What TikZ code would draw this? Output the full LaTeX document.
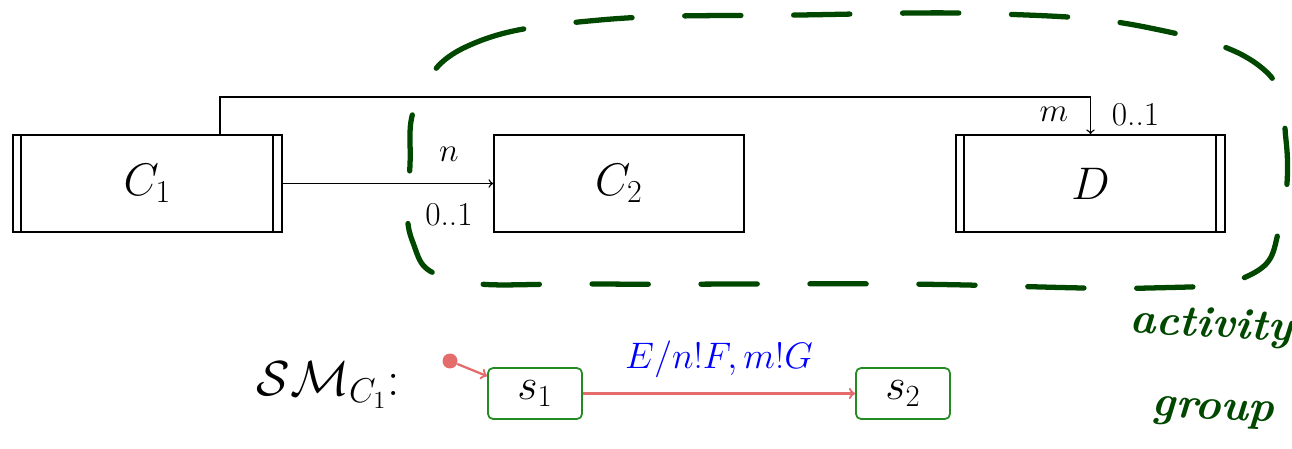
\RequirePackage{fix-cm}
\documentclass[tikz,border=0pt]{standalone}
\usepackage{amsmath}
\usepackage{tikz}
\usetikzlibrary{positioning}
\definecolor{inkGreen}{RGB}{0,72,0}
\definecolor{stGreen}{RGB}{34,139,34}
\definecolor{trSalmon}{RGB}{228,108,108}

\begin{document}
\begin{tikzpicture}[x=0.02cm, y=-0.02cm,
  cls/.style={draw, line width=1.1pt, minimum height=1.94cm, font=\fontsize{26}{30}\selectfont},
  lbl/.style={inner sep=0pt, font=\fontsize{19}{22}\selectfont},
  st/.style={draw=stGreen, line width=1pt, rounded corners=0.1cm, minimum width=1.88cm, minimum height=1.02cm, font=\fontsize{25}{28}\selectfont},
  trans/.style={->, trSalmon, line width=1.3pt},
  ink/.style={inkGreen, font=\fontsize{25}{30}\selectfont\bfseries\itshape, anchor=west, rotate=-3}]
  \useasboundingbox (0,0) rectangle (1292,449);

  % Classes
  \node[cls, minimum width=5.38cm] (c1) at (147.5,183.5) {$C_1$};
  \node[cls, minimum width=5.0cm]  (c2) at (619,183.5)   {$C_2$};
  \node[cls, minimum width=5.38cm] (d)  at (1090.5,183.5) {$D$};

  % active class bars
  \foreach \c in {c1,d} {
    \draw[line width=1.1pt, shorten <=0.55pt, shorten >=0.55pt] ([xshift=0.18cm]\c.north west) -- ([xshift=0.18cm]\c.south west);
    \draw[line width=1.1pt, shorten <=0.55pt, shorten >=0.55pt] ([xshift=-0.2cm]\c.north east) -- ([xshift=-0.2cm]\c.south east);
  }

  % Associations
  \draw[->, line width=0.8pt] (c1.east) -- (c2.west)
    node[lbl, pos=0.79, above=0.42cm] {$n$}
    node[lbl, pos=0.79, below=0.38cm] {0..1};
  \draw[->, line width=0.8pt] ([xshift=1.45cm]c1.north) -- ++(0,-37) -| (d.north);
  \node[lbl, anchor=south east] (m)    at ([xshift=-0.44cm, yshift=0.24cm]d.north) {$m$};
  \node[lbl, anchor=south west] (mult) at ([xshift=0.42cm, yshift=0.16cm]d.north) {0..1};

  % Hand drawn group
  \draw[inkGreen, line width=3pt, line cap=round, dash pattern=on 32pt off 30pt]
    plot[smooth cycle, tension=0.7] coordinates {(418,100) (470,45) (600,20) (800,15) (1000,14) (1150,28) (1262,68) (1286,140) (1280,225) (1250,275) (1150,288) (900,284) (600,284) (455,280) (412,240) (410,165)};
  \node[ink] (act) at (1124,322) {activity};
  \node[ink] (grp) at (1146,410) {group};

  % State machine
  \node[font=\fontsize{28}{32}\selectfont] (sm) at (328,385) {$\mathcal{SM}_{C_1}$:};
  \node[st] (s1) at (535,393.5) {$s_1$};
  \node[st] (s2) at (903,393.5) {$s_2$};
  \node[circle, fill=trSalmon, inner sep=0pt, minimum size=0.3cm] (init) at (450,361) {};
  \draw[trans] (init) -- ([yshift=-0.18cm]s1.north west);
  \draw[trans] (s1) -- (s2)
    node[midway, above=0.3cm, inner sep=0pt, blue, font=\fontsize{21}{24}\selectfont] {$E/n!F, m!G$};
\end{tikzpicture}
\end{document}
